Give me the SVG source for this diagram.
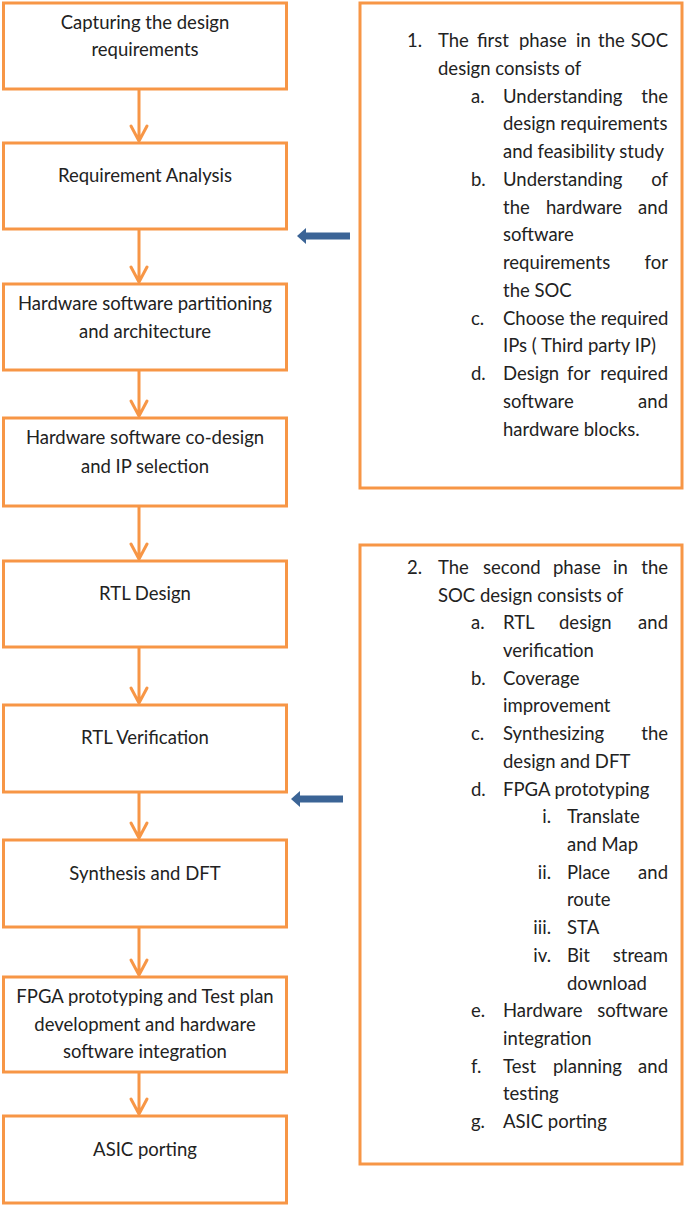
<svg xmlns="http://www.w3.org/2000/svg" width="685" height="1205" viewBox="0 0 685 1205">
<style>
.box{fill:#fff;stroke:#F79646;stroke-width:3}
.t{font-family:Lato,"Liberation Sans",sans-serif;font-size:18.5px;fill:#222}
.c{text-anchor:middle}
.e{text-anchor:end}
.ar{fill:none;stroke:#F79646;stroke-width:3;stroke-linecap:round;stroke-linejoin:round}
.blue{fill:#3B6496}
</style>
<rect width="685" height="1205" fill="#fff"/>
<g id="connectors">
<path class="ar" d="M139,89V141M131,126L139,141L147,126"/>
<path class="ar" d="M139,229V282M131,267L139,282L147,267"/>
<path class="ar" d="M139,370V416M131,401L139,416L147,401"/>
<path class="ar" d="M139,506V559M131,544L139,559L147,544"/>
<path class="ar" d="M139,647V703M131,688L139,703L147,688"/>
<path class="ar" d="M139,792V838M131,823L139,838L147,823"/>
<path class="ar" d="M139,927V975M131,960L139,975L147,960"/>
<path class="ar" d="M139,1072V1114M131,1099L139,1114L147,1099"/>
<polygon class="blue" points="297,236 306,228 306,232.5 350,232.5 350,239.5 306,239.5 306,244"/>
<polygon class="blue" points="291,799 300,791 300,795.5 343,795.5 343,802.5 300,802.5 300,807"/>
</g>
<g id="n1"><rect class="box" x="3.5" y="3" width="283" height="86"/>
<text class="t c" x="145" y="29">Capturing the design</text><text class="t c" x="145" y="56">requirements</text></g>
<g id="n2"><rect class="box" x="3.5" y="143" width="283" height="86"/>
<text class="t c" x="145" y="182">Requirement Analysis</text></g>
<g id="n3"><rect class="box" x="3.5" y="284" width="283" height="86"/>
<text class="t c" x="145" y="310">Hardware software partitioning</text><text class="t c" x="145" y="338">and architecture</text></g>
<g id="n4"><rect class="box" x="3.5" y="418" width="283" height="88"/>
<text class="t c" x="145" y="444">Hardware software co-design</text><text class="t c" x="145" y="473">and IP selection</text></g>
<g id="n5"><rect class="box" x="3.5" y="561" width="283" height="86"/>
<text class="t c" x="145" y="600">RTL Design</text></g>
<g id="n6"><rect class="box" x="3.5" y="705" width="283" height="87"/>
<text class="t c" x="145" y="744">RTL Verification</text></g>
<g id="n7"><rect class="box" x="3.5" y="840" width="283" height="87"/>
<text class="t c" x="145" y="880">Synthesis and DFT</text></g>
<g id="n8"><rect class="box" x="3.5" y="977" width="283" height="95"/>
<text class="t c" x="145" y="1003">FPGA prototyping and Test plan</text><text class="t c" x="145" y="1031">development and hardware</text><text class="t c" x="145" y="1058">software integration</text></g>
<g id="n9"><rect class="box" x="3.5" y="1116" width="283" height="87"/>
<text class="t c" x="145" y="1156">ASIC porting</text></g>
<g id="phase1"><rect class="box" x="360" y="3" width="322" height="485"/>
<text class="t" y="47"><tspan x="407">1.</tspan><tspan x="438">The</tspan><tspan x="477">first</tspan><tspan x="519">phase</tspan><tspan x="576">in</tspan><tspan x="598">the</tspan></text><text class="t e" x="668" y="47">SOC</text>
<text class="t" x="438" y="75">design consists of</text>
<text class="t" y="103"><tspan x="471">a.</tspan><tspan x="503">Understanding</tspan></text><text class="t e" x="668" y="103">the</text>
<text class="t" x="503" y="130">design requirements</text>
<text class="t" x="503" y="158">and feasibility study</text>
<text class="t" y="186"><tspan x="471">b.</tspan><tspan x="503">Understanding</tspan></text><text class="t e" x="668" y="186">of</text>
<text class="t" y="214"><tspan x="503">the</tspan><tspan x="546">hardware</tspan></text><text class="t e" x="668" y="214">and</text>
<text class="t" x="503" y="241">software</text>
<text class="t" x="503" y="269">requirements</text><text class="t e" x="668" y="269">for</text>
<text class="t" x="503" y="297">the SOC</text>
<text class="t" y="325"><tspan x="471">c.</tspan><tspan x="503">Choose the required</tspan></text>
<text class="t" x="503" y="352">IPs ( Third party IP)</text>
<text class="t" y="380"><tspan x="471">d.</tspan><tspan x="503">Design</tspan><tspan x="567">for</tspan></text><text class="t e" x="668" y="380">required</text>
<text class="t" x="503" y="408">software</text><text class="t e" x="668" y="408">and</text>
<text class="t" x="503" y="436">hardware blocks.</text>
</g>
<g id="phase2"><rect class="box" x="360" y="545" width="322" height="619"/>
<text class="t" y="574"><tspan x="407">2.</tspan><tspan x="438">The</tspan><tspan x="483">second</tspan><tspan x="553">phase</tspan><tspan x="613">in</tspan></text><text class="t e" x="668" y="574">the</text>
<text class="t" x="438" y="602">SOC design consists of</text>
<text class="t" y="629"><tspan x="471">a.</tspan><tspan x="503">RTL</tspan><tspan x="559">design</tspan></text><text class="t e" x="668" y="629">and</text>
<text class="t" x="503" y="657">verification</text>
<text class="t" y="685"><tspan x="471">b.</tspan><tspan x="503">Coverage</tspan></text>
<text class="t" x="503" y="712">improvement</text>
<text class="t" y="740"><tspan x="471">c.</tspan><tspan x="503">Synthesizing</tspan></text><text class="t e" x="668" y="740">the</text>
<text class="t" x="503" y="768">design and DFT</text>
<text class="t" y="796"><tspan x="471">d.</tspan><tspan x="503">FPGA prototyping</tspan></text>
<text class="t e" x="551" y="823">i.</text><text class="t" x="567" y="823">Translate</text>
<text class="t" x="567" y="851">and Map</text>
<text class="t e" x="551" y="879">ii.</text><text class="t" x="567" y="879">Place</text><text class="t e" x="668" y="879">and</text>
<text class="t" x="567" y="906">route</text>
<text class="t e" x="551" y="934">iii.</text><text class="t" x="567" y="934">STA</text>
<text class="t e" x="551" y="962">iv.</text><text class="t" x="567" y="962">Bit</text><text class="t e" x="668" y="962">stream</text>
<text class="t" x="567" y="990">download</text>
<text class="t" y="1017"><tspan x="471">e.</tspan><tspan x="503">Hardware</tspan></text><text class="t e" x="668" y="1017">software</text>
<text class="t" x="503" y="1045">integration</text>
<text class="t" y="1073"><tspan x="471">f.</tspan><tspan x="503">Test</tspan><tspan x="553">planning</tspan></text><text class="t e" x="668" y="1073">and</text>
<text class="t" x="503" y="1100">testing</text>
<text class="t" y="1128"><tspan x="471">g.</tspan><tspan x="503">ASIC porting</tspan></text>
</g>
</svg>
